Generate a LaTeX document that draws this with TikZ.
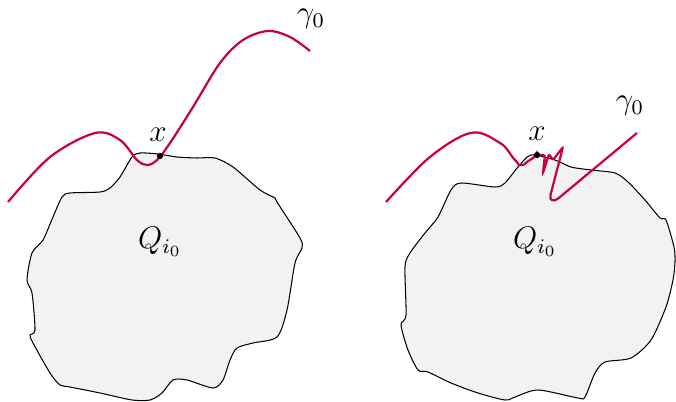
\documentclass[tikz,border=0pt]{standalone}
\usepackage{tikz}
\usepackage{amsmath}
\definecolor{curvered}{RGB}{200,0,72}

\begin{document}
\begin{tikzpicture}[x=0.3846pt,y=-0.3846pt,
  region/.style={draw=black,fill=black!5,thin},
  curve/.style={draw=curvered,line width=0.85pt},
  lab/.style={inner sep=0pt,font=\large}]
  \useasboundingbox (0,0) rectangle (676,402);
  % left picture
  \draw[region] plot[smooth cycle,tension=0.45] coordinates {
    (132,157) (140,153) (158,154) (177,157) (197,158) (215,158) (233,167)
    (260,190) (275,198) (277,202) (300,238) (302,248) (295,263) (287,310)
    (277,337) (253,343) (237,348) (230,360) (223,380) (213,388) (187,380)
    (173,380) (162,393) (150,400) (132,400) (100,393) (70,387) (60,385)
    (50,373) (33,343) (30,335) (35,330) (32,293) (27,280) (32,253) (43,240)
    (53,217) (62,197) (70,193) (100,192) (110,188) (120,177)};
  \draw[curve] plot[smooth,tension=0.55] coordinates {
    (8,202) (50,157) (95,133) (120,140) (137,160) (147,165) (157,160)
    (170,143) (193,107) (220,63) (243,40) (268,31) (290,37) (310,51)};
  \coordinate (p1) at (160,156);
  \fill (p1) circle (1.2pt);
  \node[lab] (x1) at (158,135) {$x$};
  \node[lab] (g1) at (311,19) {$\gamma_0$};
  \node[lab] (Q1) at (160,242) {$Q_{i_0}$};
  % right picture
  \draw[region] plot[smooth cycle,tension=0.45] coordinates {
    (531,155) (555,160) (571,167) (591,170) (615,173) (628,182) (645,200)
    (660,218) (666,220) (674,247) (675,262) (673,280) (666,307) (651,340)
    (631,358) (605,362) (595,373) (585,397) (578,398) (538,390) (515,397)
    (505,400) (478,393) (451,383) (428,372) (418,370) (408,350) (401,325)
    (406,315) (405,267) (410,253) (425,233) (438,217) (451,190) (461,183)
    (495,187) (505,183) (518,167)};
  \coordinate (p2) at (537,155);
  \draw[curve,rounded corners=0.8pt] plot[smooth,tension=0.55] coordinates {
    (386,202) (430,157) (471,133) (500,143) (515,160) (521,165) (530,160)
    (537,155)} -- (545,155) -- (543,173) -- (549,154) -- (553,160)
    -- (563,147) -- (551,193) .. controls (549,201) and (554,202) .. (560,197)
    -- (637,133);
  \fill (p2) circle (1.2pt);
  \node[lab] (x2) at (537,134) {$x$};
  \node[lab] (g2) at (630,106) {$\gamma_0$};
  \node[lab] (Q2) at (535,242) {$Q_{i_0}$};
\end{tikzpicture}
\end{document}
